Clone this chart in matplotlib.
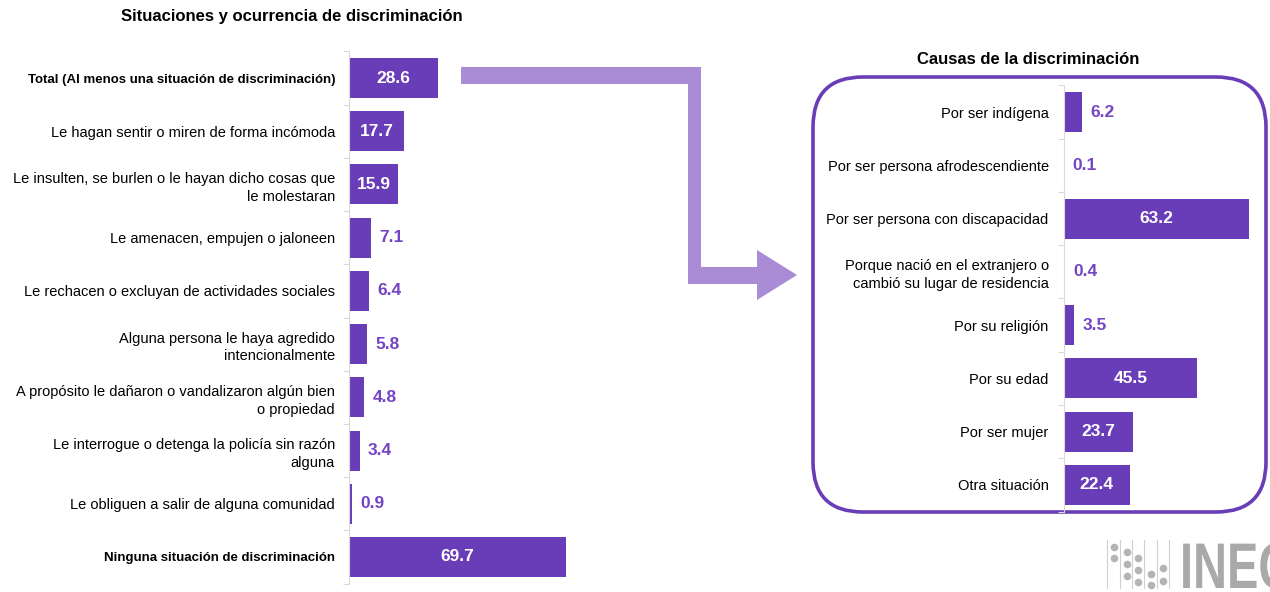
import matplotlib
matplotlib.use("Agg")
import matplotlib.pyplot as plt
from matplotlib import font_manager
from matplotlib.font_manager import FontProperties
from matplotlib.patches import FancyBboxPatch, Polygon, PathPatch
from matplotlib.textpath import TextPath
from matplotlib.transforms import Affine2D

names = {f.name for f in font_manager.fontManager.ttflist}
NARROW = "Liberation Sans Narrow" if "Liberation Sans Narrow" in names else "Liberation Sans"
plt.rcParams["font.family"] = [NARROW, "DejaVu Sans"]

BAR = "#6A3DB8"
TXT = "#7444C4"
ARROW = "#A98BD6"
AXIS = "#D9D9D9"

# ---- datos ----
sit_labels = [
    "Total (Al menos una situación de discriminación)",
    "Le hagan sentir o miren de forma incómoda",
    "Le insulten, se burlen o le hayan dicho cosas que\nle molestaran",
    "Le amenacen, empujen o jaloneen",
    "Le rechacen o excluyan de actividades sociales",
    "Alguna persona le haya agredido\nintencionalmente",
    "A propósito le dañaron o vandalizaron algún bien\no propiedad",
    "Le interrogue o detenga la policía sin razón\nalguna",
    "Le obliguen a salir de alguna comunidad",
    "Ninguna situación de discriminación",
]
sit_values = [28.6, 17.7, 15.9, 7.1, 6.4, 5.8, 4.8, 3.4, 0.9, 69.7]
sit_bold = [True, False, False, False, False, False, False, False, False, True]

causa_labels = [
    "Por ser indígena",
    "Por ser persona afrodescendiente",
    "Por ser persona con discapacidad",
    "Porque nació en el extranjero o\ncambió su lugar de residencia",
    "Por su religión",
    "Por su edad",
    "Por ser mujer",
    "Otra situación",
]
causa_values = [6.2, 0.1, 63.2, 0.4, 3.5, 45.5, 23.7, 22.4]

W, H = 1270, 592
fig = plt.figure(figsize=(W / 100, H / 100), dpi=100, facecolor="white")


def barras(ax, labels, values, xmax, inside_min, pad, bold=None):
    n = len(values)
    ys = list(range(n))
    ax.barh(ys, values, height=0.75, color=BAR, zorder=2)
    ax.set_xlim(0, xmax)
    ax.set_ylim(n - 0.5, -0.5)
    ax.set_yticks(ys)
    ax.set_yticklabels(labels, fontsize=10.5, linespacing=1.35)
    ax.set_yticks([i - 0.5 for i in range(n + 1)], minor=True)
    ax.tick_params(axis="y", which="major", length=0, pad=pad)
    ax.tick_params(axis="y", which="minor", length=4, color=AXIS, width=0.8)
    ax.set_xticks([])
    for s in ("top", "right", "bottom"):
        ax.spines[s].set_visible(False)
    ax.spines["left"].set_color(AXIS)
    ax.spines["left"].set_linewidth(0.8)
    ax.patch.set_alpha(0)
    for t, b in zip(ax.get_yticklabels(), bold or [False] * n):
        t.set_horizontalalignment("right")
        if b:
            t.set_fontweight("bold")
            t.set_fontsize(9.5)
    for y, v in zip(ys, values):
        if v >= inside_min:
            ax.text(v / 2, y, f"{v:.1f}", ha="center", va="center", color="white",
                    fontsize=12.5, fontweight="bold")
        else:
            ax.annotate(f"{v:.1f}", (v, y), xytext=(6, 0), textcoords="offset points",
                        ha="left", va="center", color=TXT, fontsize=12.5, fontweight="bold")


# panel izquierdo
axl = fig.add_axes([349 / W, 1 - 583.6 / H, 249 / W, (583.6 - 51.4) / H])
barras(axl, sit_labels, sit_values, 80, 15, 10, sit_bold)

# panel derecho
axr = fig.add_axes([1064 / W, 1 - 511.6 / H, 205 / W, (511.6 - 85.4) / H])
barras(axr, causa_labels, causa_values, 70, 20, 11)

# capa de decoración (píxeles)
deco = fig.add_axes([0, 0, 1, 1], zorder=-1)
deco.set_xlim(0, W)
deco.set_ylim(H, 0)
deco.axis("off")

deco.add_patch(FancyBboxPatch((813, 77), 453, 435, boxstyle="round,pad=0,rounding_size=50",
                              fill=False, ec="#6A3DB8", lw=2.6))
flecha = [(461, 67), (701, 67), (701, 267), (757, 267), (757, 250), (797, 275),
          (757, 300), (757, 284), (688, 284), (688, 84), (461, 84)]
deco.add_patch(Polygon(flecha, closed=True, fc=ARROW, ec="none"))

fig.text(292 / W, 1 - 16 / H, "Situaciones y ocurrencia de discriminación", ha="center",
         va="center", fontsize=12, fontweight="bold")
fig.text(1028 / W, 1 - 60 / H, "Causas de la discriminación", ha="center",
         va="center", fontsize=12, fontweight="bold")

# logo INEGI (decorativo, recortado en el borde como en el original)
for xl in (1107, 1120, 1132, 1144, 1157, 1169):
    deco.plot([xl, xl], [540, 588], color="#D0D0D0", lw=0.8)
puntos = [(1114, 547), (1114, 558), (1127, 552), (1127, 564), (1127, 576),
          (1138, 558), (1138, 570), (1138, 582), (1151, 574), (1151, 585),
          (1163, 568), (1163, 581)]
for px, py in puntos:
    deco.plot(px, py, "o", ms=5.5, color="#B4B4B4", mec="none")
tp = TextPath((0, 0), "INEGI", size=100, prop=FontProperties(family="Liberation Sans", weight="bold"))
tp = tp.transformed(Affine2D().scale(0.47, -0.645).translate(1180, 588))
deco.add_patch(PathPatch(tp, fc="#A9A9A9", ec="none"))

fig.savefig("out.png", dpi=100, facecolor="white")
